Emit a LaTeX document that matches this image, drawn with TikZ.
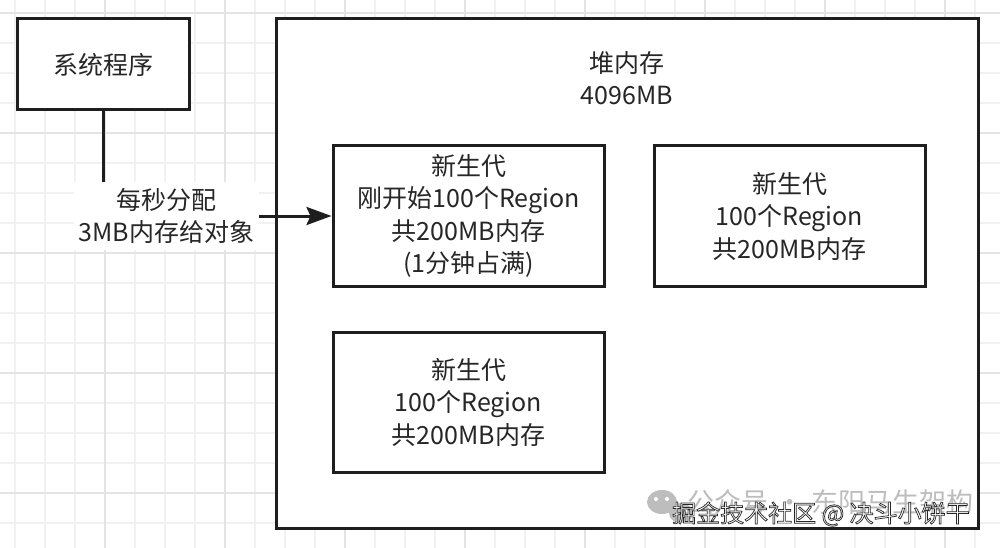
\documentclass[tikz,border=0pt]{standalone}
\usepackage{fontspec}
\setmainfont{Noto Sans CJK SC}
\usetikzlibrary{arrows.meta}
\definecolor{ink}{HTML}{1E1E1E}
\definecolor{txt}{HTML}{262626}
\definecolor{gmin}{HTML}{F1F1F1}
\definecolor{gmaj}{HTML}{E4E4E4}
\definecolor{wm}{HTML}{BDBDBD}
\newcommand{\outlinedwm}[1]{\special{pdf:literal direct 2 Tr 0.7 w 0.15 0.15 0.15 RG}#1\special{pdf:literal direct 0 Tr}}
\begin{document}
\begin{tikzpicture}[x=1pt,y=-1pt,
  box/.style={draw=ink, line width=3pt, fill=white, inner sep=0pt, align=center, text=txt, font=\fontsize{25}{32.5}\selectfont},
  plain/.style={inner sep=0pt, align=center, text=txt, font=\fontsize{25}{32.5}\selectfont},
  conn/.style={draw=ink, line width=3pt, -{Stealth[length=25pt, width=18pt, inset=4pt]}},
  lab/.style={fill=white, inner xsep=5pt, inner ysep=6pt, align=center, text=txt, font=\fontsize{25}{32.5}\selectfont},
  minor/.style={gmin, line width=1.3pt},
  major/.style={gmaj, line width=1.5pt},
  wmtext/.style={inner sep=0pt, anchor=west}
]
\useasboundingbox (0,0) rectangle (1000,548);
\fill[white] (0,0) rectangle (1000,548);
% grid
\foreach \x in {15,45,...,1000} \draw[minor] (\x,0) -- (\x,548);
\foreach \y in {13,43,...,548} \draw[minor] (0,\y) -- (1000,\y);
\foreach \x in {105,225,...,1000} \draw[major] (\x,0) -- (\x,548);
\foreach \y in {13,133,...,548} \draw[major] (0,\y) -- (1000,\y);

% boxes
\node[box, minimum width=172pt, minimum height=91pt] (sys) at (103,64.5) {系统程序};
\node[box, minimum width=702pt, minimum height=509pt] (heap) at (627,273.5) {};
\node[plain] (heaptitle) at (627,78) {堆内存\\4096MB};
\node[box, minimum width=271pt, minimum height=140pt] (ya) at (468.5,216) {新生代\\刚开始100个Region\\共200MB内存\\(1分钟占满)};
\node[box, minimum width=271pt, minimum height=140pt] (yb) at (789.5,216) {新生代\\100个Region\\共200MB内存};
\node[box, minimum width=271pt, minimum height=140pt] (yc) at (468.5,402) {新生代\\100个Region\\共200MB内存};

% connector
\draw[conn] (sys.south) |- node[lab, pos=0.639] (lbl) {每秒分配\\3MB内存给对象} (ya.west);

% watermark
\fill[wm] (662,502) ellipse [x radius=15, y radius=12];
\fill[wm] (681,513) ellipse [x radius=12, y radius=10];
\fill[white] (656,499) circle (2) (667,499) circle (2) (677,511) circle (1.6) (686,511) circle (1.6);
\node[wmtext, text=wm, font=\fontsize{27}{30}\selectfont] (wm1) at (687,502) {公众号\hspace{8pt}·\hspace{8pt}东阳马生架构};
\node[wmtext, text=white, font=\fontsize{24}{28}\selectfont] (wm2) at (672,514) {\outlinedwm{掘金技术社区 @ 决斗小饼干}};
\end{tikzpicture}
\end{document}
